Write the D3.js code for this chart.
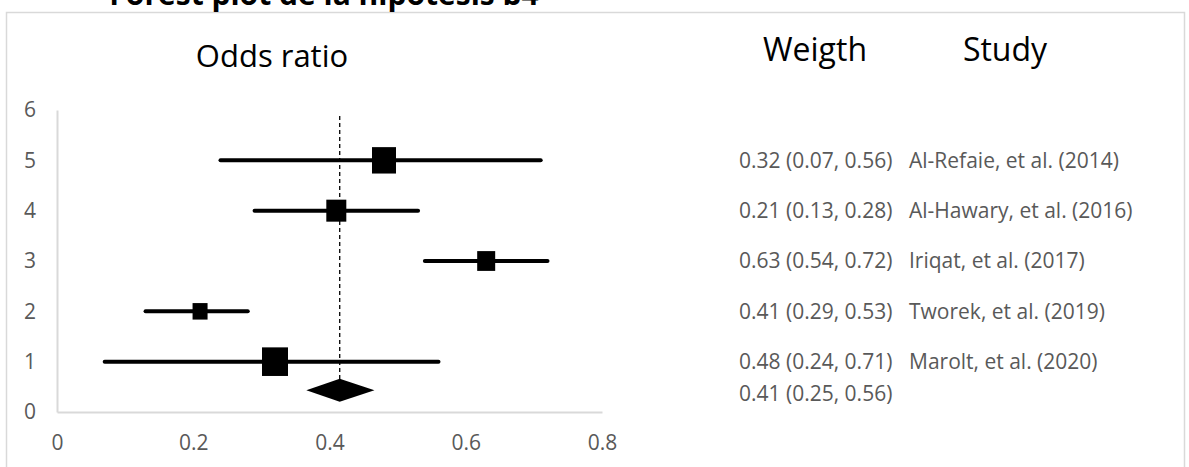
<!DOCTYPE html>
<html>
<head>
<meta charset="utf-8">
<script src="https://cdn.jsdelivr.net/npm/d3@7"></script>
<style>
  body { margin: 0; background: #fff; }
  svg { display: block; }
</style>
</head>
<body>
<svg id="chart" width="1189" height="467"></svg>
<script>
// study rows, listed top to bottom as in the text column
const studies = ["Al-Refaie, et al. (2014)", "Al-Hawary, et al. (2016)", "Iriqat, et al. (2017)", "Tworek, et al. (2019)", "Marolt, et al. (2020)"];
const estimates = [0.32, 0.21, 0.63, 0.41, 0.48];
const lower = [0.07, 0.13, 0.54, 0.29, 0.24];
const upper = [0.56, 0.28, 0.72, 0.53, 0.71];
const relWeight = [26, 15, 18, 20, 24];

// pooled estimate
const pooled = [0.41, 0.25, 0.56];
const diamondX = [0.366, 0.415, 0.466];
const diamondRow = 0.43;

const xTicks = [0, 0.2, 0.4, 0.6, 0.8];
const yTicks = [0, 1, 2, 3, 4, 5, 6];

const fmt = d3.format(".2f");
const font = "'Open Sans', sans-serif";

const svg = d3.select("#chart");
const x = d3.scaleLinear().domain([0, 0.8]).range([57, 602]);
const y = d3.scaleLinear().domain([0, 6]).range([412, 110]);
const size = d3.scaleLinear().domain([0, 26]).range([0, 26]);

// outer frame
svg.append("rect")
    .attr("x", 6.5).attr("y", 12.5)
    .attr("width", 1178).attr("height", 470)
    .attr("fill", "none")
    .attr("stroke", "#d9d9d9")
    .attr("stroke-width", 1.5);

// title, cut off at the top edge as in the source
svg.append("text")
    .attr("x", 324).attr("y", 5)
    .attr("text-anchor", "middle")
    .attr("font-family", font)
    .attr("font-weight", "bold")
    .attr("font-size", 30)
    .attr("fill", "#000")
    .text("Forest plot de la hipótesis b4");

svg.append("text")
    .attr("x", 272).attr("y", 67)
    .attr("text-anchor", "middle")
    .attr("font-family", font)
    .attr("font-size", 31)
    .text("Odds ratio");

svg.append("text")
    .attr("x", 815).attr("y", 61)
    .attr("text-anchor", "middle")
    .attr("font-family", font)
    .attr("font-size", 32)
    .text("Weigth");

svg.append("text")
    .attr("x", 1005).attr("y", 61)
    .attr("text-anchor", "middle")
    .attr("font-family", font)
    .attr("font-size", 32)
    .text("Study");

// axes
const xAxis = svg.append("g")
    .attr("transform", `translate(0,${y(0)})`)
    .call(d3.axisBottom(x).tickValues(xTicks).tickSize(0).tickPadding(31).tickFormat(d => d === 0 ? "0" : d3.format(".1f")(d)));
const yAxis = svg.append("g")
    .attr("transform", `translate(${x(0)},0)`)
    .call(d3.axisLeft(y).tickValues(yTicks).tickSize(0).tickPadding(21).tickFormat(d3.format("d")));

[xAxis, yAxis].forEach(a => {
    a.select(".domain").attr("stroke", "#d9d9d9").attr("stroke-width", 2);
    a.selectAll("text")
        .attr("font-family", font)
        .attr("font-size", 21)
        .attr("fill", "#595959");
});
xAxis.selectAll("text").attr("dy", "0.32em");

// dashed reference line at pooled estimate
svg.append("line")
    .attr("x1", x(diamondX[1])).attr("x2", x(diamondX[1]))
    .attr("y1", y(5.88)).attr("y2", y(diamondRow) - 11)
    .attr("stroke", "#000")
    .attr("stroke-width", 1.3)
    .attr("stroke-dasharray", "4,3");

// confidence intervals
const rows = studies.map((s, i) => ({
    study: s, est: estimates[i], lo: lower[i], hi: upper[i], w: relWeight[i], row: i + 1, labelRow: studies.length - i
}));

svg.selectAll(".ci")
    .data(rows)
    .join("line")
    .attr("class", "ci")
    .attr("x1", d => x(d.lo)).attr("x2", d => x(d.hi))
    .attr("y1", d => y(d.row)).attr("y2", d => y(d.row))
    .attr("stroke", "#000")
    .attr("stroke-width", 4)
    .attr("stroke-linecap", "round");

svg.selectAll(".box")
    .data(rows)
    .join("rect")
    .attr("class", "box")
    .attr("x", d => x(d.est) - size(d.w) / 2)
    .attr("y", d => y(d.row) - size(d.w) * 0.55)
    .attr("width", d => size(d.w))
    .attr("height", d => size(d.w) * 1.1)
    .attr("fill", "#000");

// pooled diamond
const dy = y(diamondRow);
svg.append("path")
    .attr("d", `M${x(diamondX[0])},${dy} L${x(diamondX[1])},${dy - 11.5} L${x(diamondX[2])},${dy} L${x(diamondX[1])},${dy + 11.5} Z`)
    .attr("fill", "#000");

// text column
const labels = svg.append("g")
    .attr("font-family", font)
    .attr("font-size", 21)
    .attr("fill", "#595959");

labels.selectAll(".wt")
    .data(rows)
    .join("text")
    .attr("class", "wt")
    .attr("x", 739)
    .attr("y", d => y(d.labelRow))
    .attr("dy", "0.35em")
    .text(d => `${fmt(d.est)} (${fmt(d.lo)}, ${fmt(d.hi)})`);

labels.selectAll(".st")
    .data(rows)
    .join("text")
    .attr("class", "st")
    .attr("x", 909)
    .attr("y", d => y(d.labelRow))
    .attr("dy", "0.35em")
    .text(d => d.study);

labels.append("text")
    .attr("x", 739)
    .attr("y", y(diamondRow) + 3)
    .attr("dy", "0.35em")
    .text(`${fmt(pooled[0])} (${fmt(pooled[1])}, ${fmt(pooled[2])})`);
</script>
</body>
</html>
